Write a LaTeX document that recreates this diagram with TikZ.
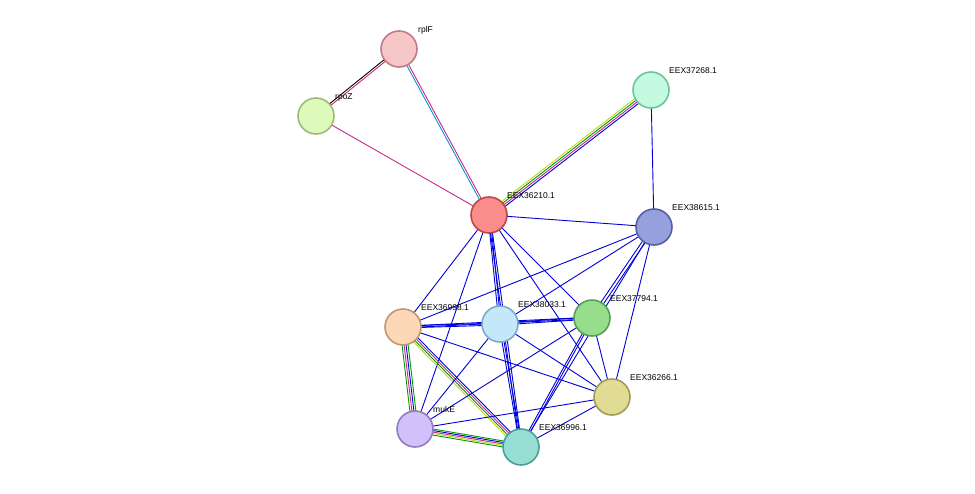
\documentclass[tikz,border=0pt]{standalone}
\usepackage{fontspec}
\setmainfont{Liberation Sans}
\usetikzlibrary{calc}
\begin{document}
\begin{tikzpicture}[x=1pt,y=-1pt,
  prot/.style={circle,minimum size=36pt,inner sep=0pt,line width=1.6pt},
  lab/.style={font=\fontsize{8.5}{10}\selectfont,anchor=base west,inner sep=0pt},
  e/.style={line width=0.9pt,draw=blue!85!black}]
\useasboundingbox (0,0) rectangle (975,493);
\coordinate (rplF) at (399,49);
\coordinate (rpoZ) at (316,116);
\coordinate (E37268) at (651,90);
\coordinate (E36210) at (489,215);
\coordinate (E38615) at (654,227);
\coordinate (E36998) at (403,327);
\coordinate (E38033) at (500,324);
\coordinate (E37794) at (592,318);
\coordinate (E36266) at (612,397);
\coordinate (mukE) at (415,429);
\coordinate (E36996) at (521,447);
\newcommand\medge[3]{\foreach \c/\k in {#3}{\draw[e,draw=\c] ($(#1)!\k pt!90:(#2)$) -- ($(#2)!\k pt!-90:(#1)$);}}
% multi-colour edges
\medge{rplF}{rpoZ}{black/-1,magenta!80!black/1}
\medge{rplF}{E36210}{cyan!80!blue/-1,magenta!80!black/1}
\draw[e,draw=magenta!80!black] (rpoZ) -- (E36210);
\medge{E37268}{E36210}{yellow!70!green/-3,green!60!black/-1,magenta!80!black/1,blue!85!black/3}
\draw[e] (E37268) -- (E38615);
\draw[e] (E36210) -- (E38615);
\draw[e] (E36210) -- (E36998);
\medge{E36210}{E38033}{blue!85!black/-1,blue!85!black/1}
\draw[e] (E36210) -- (E37794);
\draw[e] (E36210) -- (E36266);
\draw[e] (E36210) -- (mukE);
\medge{E36210}{E36996}{blue!85!black/-1,blue!85!black/1}
\draw[e] (E38615) -- (E36998);
\draw[e] (E38615) -- (E38033);
\medge{E38615}{E37794}{blue!85!black/-1.5,blue!85!black/1.5}
\draw[e] (E38615) -- (E36266);
\draw[e] (E38615) -- (E36996);
\medge{E36998}{E38033}{blue!85!black/-1,blue!85!black/1}
\medge{E36998}{E37794}{blue!85!black/-0.8,blue!85!black/0.8}
\draw[e] (E36998) -- (E36266);
\medge{E36998}{mukE}{green!60!black/-3,magenta!80!black/-1,blue!85!black/1,green!60!black/3}
\medge{E36998}{E36996}{yellow!70!green/-3,green!60!black/-1,magenta!80!black/1,blue!85!black/3}
\medge{E38033}{E37794}{blue!85!black/-1,blue!85!black/1}
\draw[e] (E38033) -- (mukE);
\medge{E38033}{E36996}{blue!85!black/-1,blue!85!black/1}
\draw[e] (E38033) -- (E36266);
\draw[e] (E37794) -- (E36266);
\medge{E37794}{E36996}{blue!85!black/-1,blue!85!black/1}
\draw[e] (E37794) -- (mukE);
\draw[e] (E36266) -- (mukE);
\draw[e] (E36266) -- (E36996);
\medge{mukE}{E36996}{green!60!black/-3,yellow!70!green/-1.5,magenta!80!black/0,blue!85!black/1.5,green!60!black/3}
% nodes
\node[prot,fill={rgb,255:red,246;green,198;blue,198},draw={rgb,255:red,190;green,125;blue,130}] (nrplF) at (rplF) {};
\node[prot,fill={rgb,255:red,222;green,250;blue,186},draw={rgb,255:red,160;green,185;blue,120}] (nrpoZ) at (rpoZ) {};
\node[prot,fill={rgb,255:red,196;green,250;blue,224},draw={rgb,255:red,110;green,195;blue,155}] (n37268) at (E37268) {};
\node[prot,fill={rgb,255:red,250;green,140;blue,140},draw={rgb,255:red,190;green,70;blue,70}] (n36210) at (E36210) {};
\node[prot,fill={rgb,255:red,150;green,160;blue,222},draw={rgb,255:red,85;green,95;blue,165}] (n38615) at (E38615) {};
\node[prot,fill={rgb,255:red,252;green,216;blue,182},draw={rgb,255:red,195;green,150;blue,115}] (n36998) at (E36998) {};
\node[prot,fill={rgb,255:red,196;green,232;blue,250},draw={rgb,255:red,125;green,170;blue,200}] (n38033) at (E38033) {};
\node[prot,fill={rgb,255:red,150;green,222;blue,140},draw={rgb,255:red,85;green,160;blue,80}] (n37794) at (E37794) {};
\node[prot,fill={rgb,255:red,224;green,220;blue,150},draw={rgb,255:red,160;green,155;blue,85}] (n36266) at (E36266) {};
\node[prot,fill={rgb,255:red,210;green,192;blue,250},draw={rgb,255:red,145;green,125;blue,190}] (nmukE) at (mukE) {};
\node[prot,fill={rgb,255:red,150;green,222;blue,212},draw={rgb,255:red,75;green,160;blue,150}] (n36996) at (E36996) {};
% labels
\node[lab] (lrplF) at (418,32) {rplF};
\node[lab] (lrpoZ) at (335,99) {rpoZ};
\node[lab] (l37268) at (669,73) {EEX37268.1};
\node[lab] (l36210) at (507,198) {EEX36210.1};
\node[lab] (l38615) at (672,210) {EEX38615.1};
\node[lab] (l36998) at (421,310) {EEX36998.1};
\node[lab] (l38033) at (518,307) {EEX38033.1};
\node[lab] (l37794) at (610,301) {EEX37794.1};
\node[lab] (l36266) at (630,380) {EEX36266.1};
\node[lab] (lmukE) at (433,412) {mukE};
\node[lab] (l36996) at (539,430) {EEX36996.1};
\end{tikzpicture}
\end{document}
